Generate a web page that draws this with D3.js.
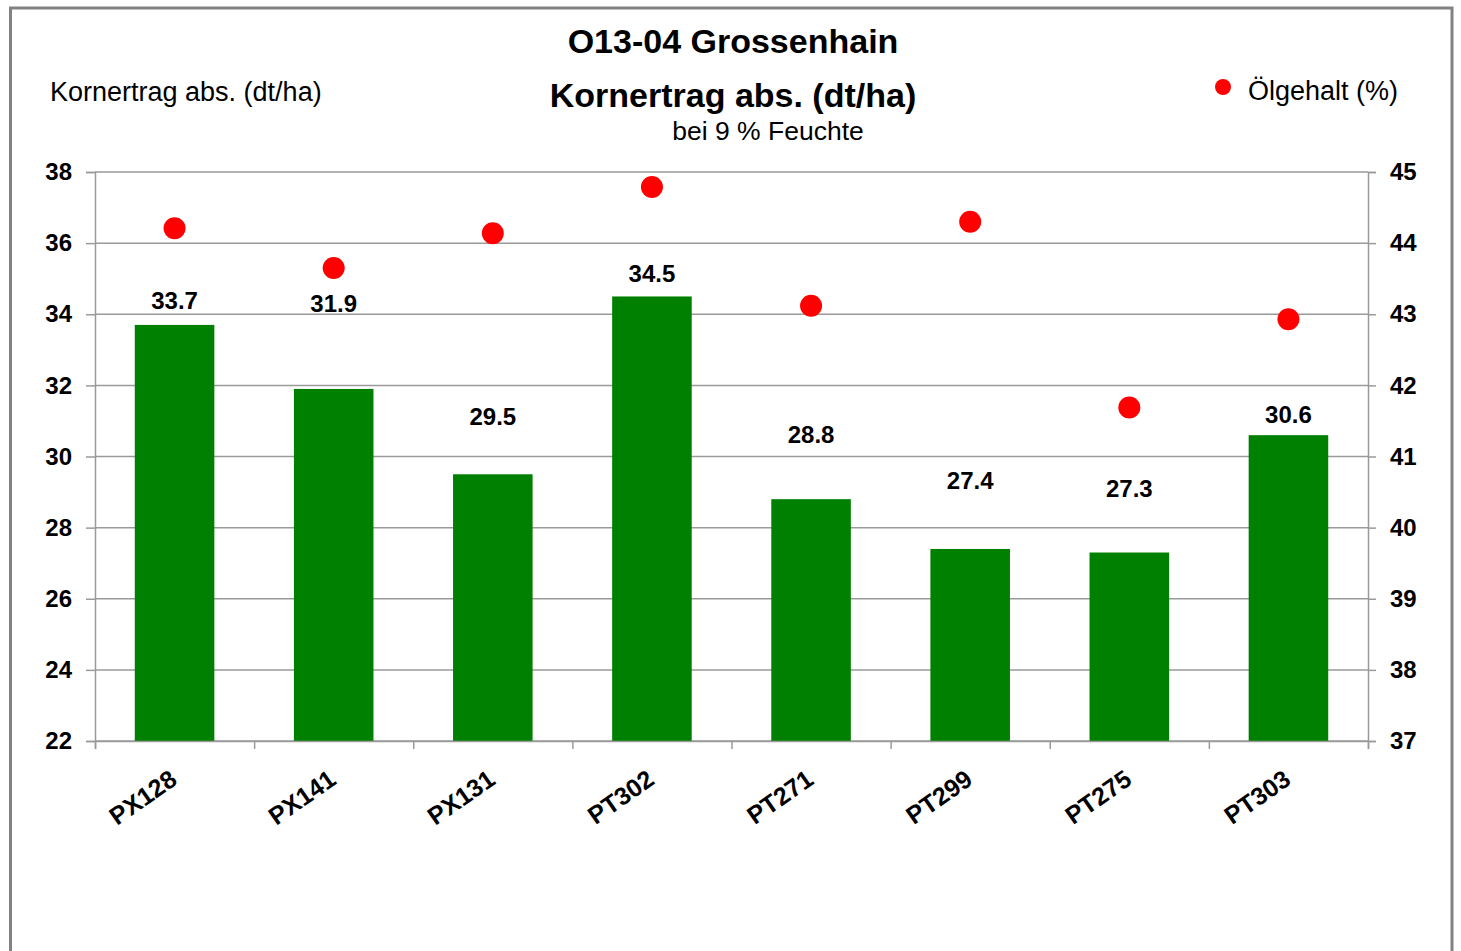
<!DOCTYPE html>
<html>
<head>
<meta charset="utf-8">
<script src="https://cdn.jsdelivr.net/npm/d3@7"></script>
<style>
  body { margin: 0; background: #fff; }
  text { font-family: "Liberation Sans", Arial, sans-serif; fill: #000; }
  .gridLine { stroke: #9a9a9a; stroke-width: 1.5; }
  .axis path, .axis line { stroke: #9a9a9a; stroke-width: 1.5; }
  .axis text { font-size: 24px; font-weight: bold; }
  .xLabels text { font-size: 25px; }
</style>
</head>
<body>
<script>
var w = 1461;
var h = 951;

// data
var categories = ["PX128", "PX141", "PX131", "PT302", "PT271", "PT299", "PT275", "PT303"];
var yieldValues = [33.7, 31.9, 29.5, 34.5, 28.8, 27.4, 27.3, 30.6];
var oilValues = [44.21, 43.65, 44.14, 44.79, 43.12, 44.30, 41.69, 42.93];
// where each value label sits, in left-axis units
var labelAt = [34.14, 34.07, 30.89, 34.92, 30.39, 29.09, 28.85, 30.95];
var leftTicks = [22, 24, 26, 28, 30, 32, 34, 36, 38];
var rightTicks = [37, 38, 39, 40, 41, 42, 43, 44, 45];

var plotLeft = 95, plotRight = 1368, plotTop = 172, plotBottom = 741;

var xScale = d3.scaleBand()
               .domain(categories)
               .range([plotLeft, plotRight])
               .paddingInner(0.5)
               .paddingOuter(0.25);

var xEdge = d3.scaleLinear()
              .domain([0, categories.length])
              .range([plotLeft, plotRight]);

var yLeft = d3.scaleLinear()
              .domain([22, 38])
              .range([plotBottom, plotTop]);

var yRight = d3.scaleLinear()
               .domain([37, 45])
               .range([plotBottom, plotTop]);

var svg = d3.select("body")
            .append("svg")
            .attr("width", w)
            .attr("height", h);

// frame
svg.append("rect")
   .attr("x", 10.5)
   .attr("y", 8)
   .attr("width", 1441.5)
   .attr("height", 1000)
   .attr("fill", "none")
   .attr("stroke", "#828282")
   .attr("stroke-width", 3);

// titles
svg.append("text")
   .attr("x", 733).attr("y", 53)
   .attr("text-anchor", "middle")
   .style("font-size", "34px").style("font-weight", "bold")
   .text("O13-04 Grossenhain");

svg.append("text")
   .attr("x", 733).attr("y", 107)
   .attr("text-anchor", "middle")
   .style("font-size", "34px").style("font-weight", "bold")
   .text("Kornertrag abs. (dt/ha)");

svg.append("text")
   .attr("x", 768).attr("y", 140)
   .attr("text-anchor", "middle")
   .style("font-size", "26.5px")
   .text("bei 9 % Feuchte");

svg.append("text")
   .attr("x", 50).attr("y", 101)
   .style("font-size", "27px")
   .text("Kornertrag abs. (dt/ha)");

// legend
svg.append("circle")
   .attr("cx", 1223).attr("cy", 87)
   .attr("r", 8)
   .attr("fill", "#ff0000");

svg.append("text")
   .attr("x", 1248).attr("y", 100)
   .style("font-size", "27px")
   .text("Ölgehalt (%)");

// grid lines
svg.selectAll("gridLines")
   .data(leftTicks)
   .enter()
   .append("line")
   .attr("class", "gridLine")
   .attr("x1", plotLeft)
   .attr("x2", plotRight)
   .attr("y1", function(d) { return yLeft(d); })
   .attr("y2", function(d) { return yLeft(d); });

// bars
svg.selectAll("bars")
   .data(yieldValues)
   .enter()
   .append("rect")
   .attr("x", function(d, i) { return xScale(categories[i]); })
   .attr("width", xScale.bandwidth())
   .attr("y", function(d) { return yLeft(d); })
   .attr("height", function(d) { return yLeft(22) - yLeft(d); })
   .attr("fill", "#008000");

// axes
svg.append("g")
   .attr("class", "axis")
   .attr("transform", "translate(" + plotLeft + ",0)")
   .call(d3.axisLeft(yLeft).tickValues(leftTicks).tickSize(9).tickPadding(14));

svg.append("g")
   .attr("class", "axis")
   .attr("transform", "translate(" + plotRight + ",0)")
   .call(d3.axisRight(yRight).tickValues(rightTicks).tickSize(8).tickPadding(14));

svg.append("g")
   .attr("class", "axis")
   .attr("transform", "translate(0," + plotBottom + ")")
   .call(d3.axisBottom(xEdge).ticks(categories.length).tickFormat("").tickSize(8));

var xLabels = svg.append("g")
   .attr("class", "axis xLabels")
   .attr("transform", "translate(0," + plotBottom + ")")
   .call(d3.axisBottom(xScale).tickSize(0));

xLabels.select(".domain").remove();
xLabels.selectAll("text")
   .attr("text-anchor", "end")
   .attr("dy", null)
   .attr("y", 0)
   .attr("transform", "translate(4,42) rotate(-35)");

// value labels
svg.selectAll("valueLabels")
   .data(yieldValues)
   .enter()
   .append("text")
   .attr("x", function(d, i) { return xScale(categories[i]) + xScale.bandwidth() / 2; })
   .attr("y", function(d, i) { return yLeft(labelAt[i]); })
   .attr("text-anchor", "middle")
   .style("font-size", "24px")
   .style("font-weight", "bold")
   .text(function(d) { return d.toFixed(1); });

// oil content dots
svg.selectAll("dots")
   .data(oilValues)
   .enter()
   .append("circle")
   .attr("cx", function(d, i) { return xScale(categories[i]) + xScale.bandwidth() / 2; })
   .attr("cy", function(d) { return yRight(d); })
   .attr("r", 11)
   .attr("fill", "#ff0000");
</script>
</body>
</html>
